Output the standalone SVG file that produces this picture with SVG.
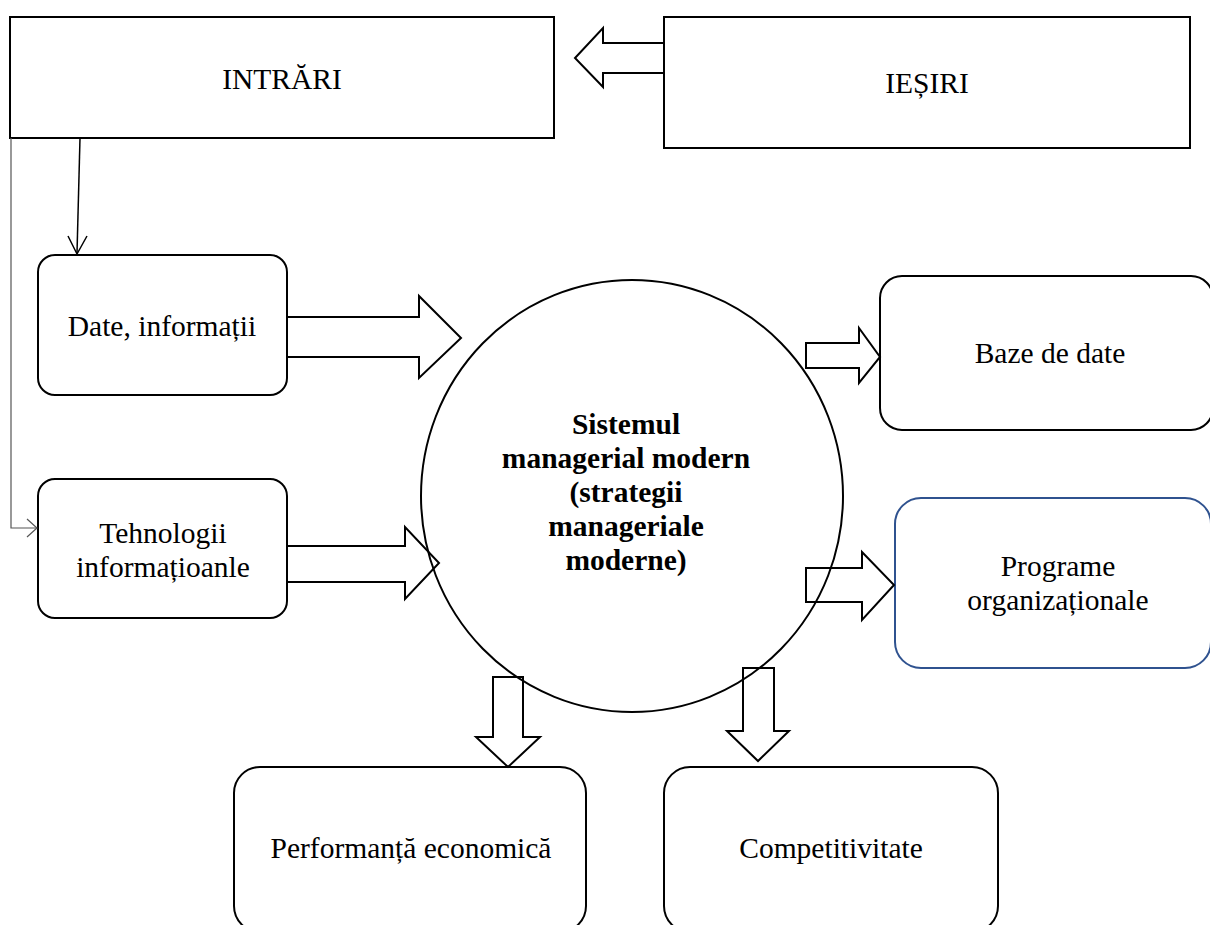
<svg xmlns="http://www.w3.org/2000/svg" width="1210" height="925" viewBox="0 0 1210 925">
  <style>
    .box { fill: #ffffff; stroke: #000000; stroke-width: 2; }
    .blue { fill: #ffffff; stroke: #2F528F; stroke-width: 2; }
    .hollow { fill: #ffffff; stroke: #000000; stroke-width: 2; stroke-linejoin: miter; }
    .thin { fill: none; stroke: #000000; stroke-width: 1.5; }
    .gray { fill: none; stroke: #555555; stroke-width: 1.2; }
    .t { font-family: "Liberation Serif", "Times New Roman", serif; font-size: 29.5px; fill: #000000; text-anchor: middle; }
    .b { font-weight: bold; }
  </style>
  <rect width="1210" height="925" fill="#ffffff"/>

  <g id="intrari">
    <rect class="box" x="10" y="17" width="544" height="121"/>
    <text class="t" x="282" y="89">INTRĂRI</text>
  </g>
  <g id="iesiri">
    <rect class="box" x="664" y="17" width="526" height="131"/>
    <text class="t" x="927" y="93">IEȘIRI</text>
  </g>
  <g id="date">
    <rect class="box" x="38" y="255" width="249" height="140" rx="17" ry="17"/>
    <text class="t" x="162" y="336">Date, informații</text>
  </g>
  <g id="tehnologii">
    <rect class="box" x="38" y="479" width="249" height="139" rx="17" ry="17"/>
    <text class="t" x="163" y="543">Tehnologii</text>
    <text class="t" x="163" y="577">informațioanle</text>
  </g>
  <g id="baze">
    <rect class="box" x="880" y="276" width="333" height="154" rx="22" ry="22"/>
    <text class="t" x="1050" y="363">Baze de date</text>
  </g>
  <g id="programe">
    <rect class="blue" x="895" y="498" width="316" height="170" rx="26" ry="26"/>
    <text class="t" x="1058" y="576">Programe</text>
    <text class="t" x="1058" y="610">organizaționale</text>
  </g>
  <g id="performanta">
    <rect class="box" x="234" y="767" width="352" height="165" rx="26" ry="26"/>
    <text class="t" x="411" y="858">Performanță economică</text>
  </g>
  <g id="competitivitate">
    <rect class="box" x="664" y="767" width="334" height="165" rx="26" ry="26"/>
    <text class="t" x="831" y="858">Competitivitate</text>
  </g>

  <g id="connectors">
    <polygon class="hollow" points="664,43 603,43 603,28 575,58 603,87 603,73 664,73"/>
    <polyline class="thin" points="80,138 77,253"/>
    <polyline class="thin" points="68,236 77,254 87,236"/>
    <polyline class="gray" points="11,138 11,528 37,528"/>
    <polyline class="gray" points="27,519 37,528 27,537"/>
    <polygon class="hollow" points="287,317 419,317 419,296 461,338 419,378 419,357 287,357"/>
    <polygon class="hollow" points="287,546 405,546 405,527 439,563 405,599 405,582 287,582"/>
    <polygon class="hollow" points="806,343 859,343 859,328 880,357 859,383 859,368 806,368"/>
    <polygon class="hollow" points="806,568 862,568 862,552 894,585 862,620 862,602 806,602"/>
    <polygon class="hollow" points="493,677 523,677 523,737 540,737 508,767 476,737 493,737"/>
    <polygon class="hollow" points="743,668 774,668 774,731 789,731 758,761 727,731 743,731"/>
  </g>

  <g id="sistemul">
    <ellipse cx="632" cy="496" rx="211" ry="216" fill="none" stroke="#000000" stroke-width="2"/>
    <text class="t b" x="626" y="434">Sistemul</text>
    <text class="t b" x="626" y="468">managerial modern</text>
    <text class="t b" x="626" y="502">(strategii</text>
    <text class="t b" x="626" y="536">manageriale</text>
    <text class="t b" x="626" y="570">moderne)</text>
  </g>
</svg>
